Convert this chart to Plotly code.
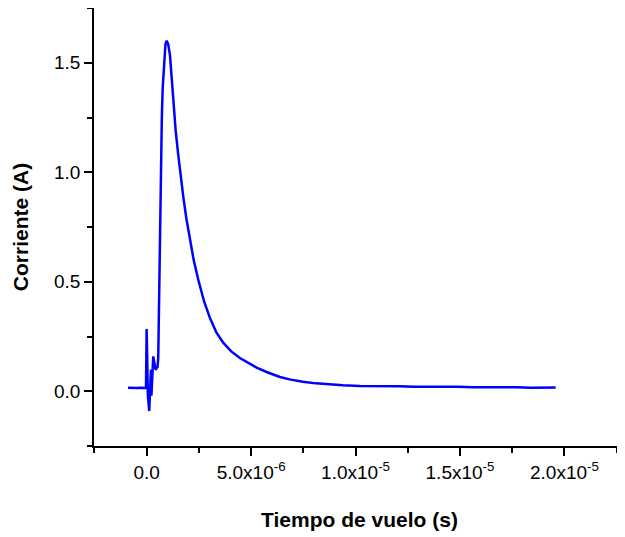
import plotly.graph_objects as go

# Time of flight in microseconds (converted to seconds below)
t_us = [-0.89, -0.75, -0.6, -0.45, -0.3, -0.15, -0.03, 0.0, 0.01, 0.06, 0.124, 0.17, 0.206, 0.23,
        0.27, 0.316, 0.37, 0.43, 0.47, 0.52, 0.555, 0.59, 0.636, 0.684, 0.725, 0.766, 0.842,
        0.90, 0.957, 1.03, 1.117, 1.19, 1.273, 1.39, 1.512, 1.63, 1.751, 1.90, 2.072, 2.25,
        2.469, 2.75, 3.029, 3.33, 3.665, 4.05, 4.464, 4.943, 5.263, 5.742, 6.05, 6.378,
        6.9, 7.48, 8.1, 8.77, 9.4, 10.2, 10.9, 11.5, 12.12, 12.8, 13.5, 14.2, 14.9, 15.6,
        16.3, 17.0, 17.7, 18.4, 19.0, 19.58]
# Current in amperes
current = [0.016, 0.015, 0.017, 0.015, 0.016, 0.014, 0.015, 0.284, 0.20, -0.02, -0.09, 0.02,
           0.098, -0.02, 0.07, 0.159, 0.13, 0.098, 0.105, 0.11, 0.15, 0.40, 0.778, 1.08,
           1.24, 1.38, 1.535, 1.585, 1.601, 1.585, 1.535, 1.44, 1.32, 1.19, 1.08, 0.98,
           0.89, 0.79, 0.69, 0.60, 0.51, 0.41, 0.335, 0.27, 0.222, 0.182, 0.152, 0.125,
           0.108, 0.088, 0.076, 0.065, 0.053, 0.043, 0.036, 0.031, 0.027, 0.024,
           0.024, 0.022, 0.023, 0.020, 0.021, 0.019, 0.020, 0.018, 0.019, 0.017, 0.018,
           0.016, 0.018, 0.017]

t_s = [v * 1e-6 for v in t_us]

x_tickvals = [0, 5e-6, 1e-5, 1.5e-5, 2e-5]
x_ticktext = ["0.0", "5.0x10<sup>-6</sup>", "1.0x10<sup>-5</sup>",
              "1.5x10<sup>-5</sup>", "2.0x10<sup>-5</sup>"]

FONT = "Liberation Sans, Arial"

fig = go.Figure()
fig.add_trace(go.Scatter(x=t_s, y=current, mode="lines",
                         line=dict(color="#0000ff", width=2.5), showlegend=False))

axis_common = dict(showline=True, linecolor="black", linewidth=1.5, mirror=False,
                   showgrid=False, zeroline=False, ticks="outside", ticklen=8,
                   tickwidth=1.5, tickcolor="black",
                   tickfont=dict(family=FONT, size=19, color="black"))

# page body has an 8px margin, so the figure is sized to fit the 625x537 window
fig.update_layout(
    width=617, height=529,
    margin=dict(l=86, r=0, t=0, b=91),
    paper_bgcolor="white", plot_bgcolor="white",
    font=dict(family=FONT, color="black"),
    xaxis=dict(range=[-2.52e-6, 2.29e-5], tickmode="array", tickvals=x_tickvals,
               ticktext=x_ticktext,
               minor=dict(tickmode="linear", tick0=0, dtick=2.5e-6, ticklen=5,
                          tickwidth=1.5, tickcolor="black", ticks="outside"),
               title=dict(text="<b>Tiempo de vuelo (s)</b>", standoff=31,
                          font=dict(family=FONT, size=21)),
               **axis_common),
    yaxis=dict(range=[-0.25, 1.75], tick0=0, dtick=0.5, tickformat=".1f",
               minor=dict(tick0=0, dtick=0.25, ticklen=5, tickwidth=1.5,
                          tickcolor="black", ticks="outside"),
               title=dict(text="<b>Corriente (A)</b>", standoff=20,
                          font=dict(family=FONT, size=21)),
               **axis_common),
)

fig.write_html("out.html")
